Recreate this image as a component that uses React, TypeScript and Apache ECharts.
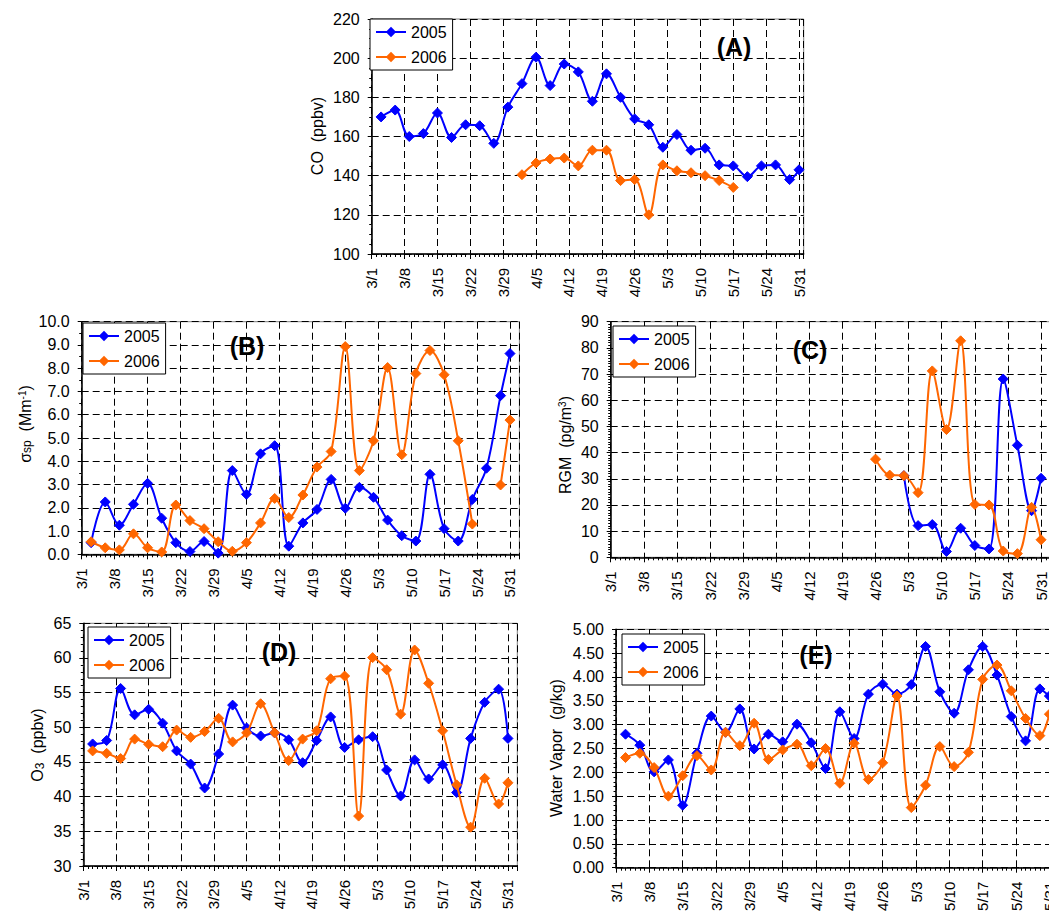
import React, { useEffect, useRef } from 'react';
import * as echarts from 'echarts';

const FONT = "'Liberation Sans', Arial, sans-serif";
const BLUE = '#0000FF';
const ORANGE = '#FF6600';

// day offsets from 3/1 for each 3-day average
const DAYS = [2, 5, 8, 11, 14, 17, 20, 23, 26, 29, 32, 35, 38, 41, 44, 47, 50, 53, 56, 59, 62, 65, 68, 71, 74, 77, 80, 83, 86, 89, 91];
const TICK_DAYS = [0, 7, 14, 21, 28, 35, 42, 49, 56, 63, 70, 77, 84, 91];
const TICK_LABELS = ['3/1', '3/8', '3/15', '3/22', '3/29', '4/5', '4/12', '4/19', '4/26', '5/3', '5/10', '5/17', '5/24', '5/31'];

const CO_2005 = [170, 173.5, 160, 161.5, 172, 159.5, 166, 165.5, 156.5, 175, 187, 200.5, 186, 197, 193, 178, 192, 180, 169, 166, 154.5, 161, 153, 154, 145.5, 145, 139.5, 145, 145.5, 138, 143];
const CO_2006 = [null, null, null, null, null, null, null, null, null, null, 140.5, 146.5, 148.5, 149, 145, 153, 153, 137.5, 138, 120, 145.5, 142.5, 141.5, 140, 137.5, 134, null, null, null, null, null];

const SSP_2005 = [0.5, 2.25, 1.25, 2.15, 3.05, 1.55, 0.5, 0.12, 0.55, 0.05, 3.6, 2.58, 4.32, 4.67, 0.35, 1.35, 1.93, 3.22, 1.98, 2.88, 2.45, 1.47, 0.8, 0.57, 3.44, 1.1, 0.57, 2.36, 3.7, 6.82, 8.63];
const SSP_2006 = [0.54, 0.28, 0.19, 0.88, 0.28, 0.1, 2.12, 1.45, 1.1, 0.54, 0.13, 0.5, 1.35, 2.4, 1.58, 2.55, 3.75, 4.42, 8.93, 3.6, 4.88, 8.03, 4.28, 7.77, 8.76, 7.72, 4.88, 1.3, null, 2.98, 5.77];

const RGM_2005 = [null, null, null, null, null, null, null, null, null, null, null, null, null, null, null, null, null, null, null, null, 31.2, 12.1, 12.5, 2.2, 11.1, 4.5, 3.2, 68.1, 42.8, 17.8, 30.2];
const RGM_2006 = [null, null, null, null, null, null, null, null, null, null, null, null, null, null, null, null, null, null, 37.5, 31.4, 31.2, 24.7, 71.2, 48.8, 82.7, 20.2, 20, 2.4, 1.4, 19.1, 6.7];

const O3_2005 = [47.6, 48.1, 55.6, 51.8, 52.6, 50.6, 46.6, 44.7, 41.25, 46.15, 53.2, 49.9, 48.75, 49.2, 48.2, 44.9, 48.1, 51.5, 47.1, 48.2, 48.65, 43.85, 40.1, 45.3, 42.55, 44.6, 40.6, 48.4, 53.6, 55.5, 48.4];
const O3_2006 = [46.6, 46.25, 45.5, 48.3, 47.55, 47.2, 49.6, 48.55, 49.4, 51.3, 47.9, 49.2, 53.4, 49.2, 45.2, 48.3, 49.5, 57.0, 57.4, 37.2, 60.05, 58.3, 51.9, 61.15, 56.35, 49.5, 41.7, 35.6, 42.65, 38.95, 42.0];

const WV_2005 = [2.8, 2.57, 2.01, 2.26, 1.31, 2.4, 3.18, 2.84, 3.33, 2.49, 2.8, 2.64, 3.01, 2.62, 2.08, 3.27, 2.71, 3.64, 3.85, 3.64, 3.84, 4.64, 3.69, 3.24, 4.15, 4.64, 4.04, 3.17, 2.66, 3.75, 3.6];
const WV_2006 = [2.31, 2.4, 2.1, 1.5, 1.93, 2.35, 2.05, 2.84, 2.56, 3.03, 2.27, 2.47, 2.59, 2.14, 2.5, 1.77, 2.61, 1.85, 2.2, 3.6, 1.26, 1.73, 2.54, 2.12, 2.42, 3.95, 4.25, 3.71, 3.13, 2.77, 3.22];

const pairs = (vals: (number | null)[]) => DAYS.map((d, i) => [d, vals[i] == null ? '-' : vals[i]]);

const GRIDS = [
  { left: 371.7, top: 19, width: 432, height: 235, xMax: 92 },
  { left: 81.7, top: 321.7, width: 437.7, height: 232.6, xMax: 93 },
  { left: 610.7, top: 321.7, width: 439.8, height: 235.6, xMax: 93 },
  { left: 83.3, top: 623.3, width: 434, height: 242.7, xMax: 93 },
  { left: 616, top: 629.3, width: 442.9, height: 238.4, xMax: 93 },
];

const Y_CFG = [
  { min: 100, max: 220, interval: 20, minor: 4, dec: 0 },
  { min: 0, max: 10, interval: 1, minor: 2, dec: 1 },
  { min: 0, max: 90, interval: 10, minor: 10, dec: 0 },
  { min: 30, max: 65, interval: 5, minor: 5, dec: 0 },
  { min: 0, max: 5, interval: 0.5, minor: 5, dec: 2 },
];

const SERIES_DATA = [
  [CO_2005, CO_2006],
  [SSP_2005, SSP_2006],
  [RGM_2005, RGM_2006],
  [O3_2005, O3_2006],
  [WV_2005, WV_2006],
];

const LEGEND_POS = [
  { left: 370, top: 19 },
  { left: 83, top: 323 },
  { left: 613, top: 326 },
  { left: 88, top: 627 },
  { left: 622, top: 634 },
];

const PANEL_TITLES = [
  { text: '(A)', x: 734, y: 46.5 },
  { text: '(B)', x: 247, y: 346 },
  { text: '(C)', x: 810, y: 350 },
  { text: '(D)', x: 279, y: 652 },
  { text: '(E)', x: 816, y: 655 },
];

const AXIS_NAMES = [
  { text: '{a|CO  (ppbv)}', x: 317.5, y: 136 },
  { text: '{a|σ}{sub|sp}{a|  (Mm}{sup|-1}{a|)}', x: 25, y: 424 },
  { text: '{a|RGM  (pg/m}{sup|3}{a|)}', x: 565, y: 445 },
  { text: '{a|O}{sub|3}{a|  (ppbv)}', x: 37.5, y: 745 },
  { text: '{a|Water Vapor  (g/kg)}', x: 556, y: 748 },
];

const NAME_RICH = {
  a: { fontSize: 16, fontFamily: FONT, fill: '#000' },
  sub: { fontSize: 12, fontFamily: FONT, fill: '#000', verticalAlign: 'bottom' },
  sup: { fontSize: 10, fontFamily: FONT, fill: '#000', verticalAlign: 'top' },
};

export default function App() {
  const ref = useRef<HTMLDivElement>(null);
  useEffect(() => {
    if (!ref.current) return;
    const chart = echarts.init(ref.current, null, { renderer: 'svg' });

    const grid = GRIDS.map((g) => ({
      left: g.left, top: g.top, width: g.width, height: g.height,
      show: true, borderColor: '#808080', borderWidth: 1, backgroundColor: 'transparent',
      outerBoundsMode: 'none', containLabel: false,
    }));

    const xAxis: any[] = [];
    GRIDS.forEach((g, i) => {
      xAxis.push({
        type: 'value', gridIndex: i, min: 0, max: g.xMax, interval: 7, position: 'bottom',
        axisLine: { show: true, onZero: false, lineStyle: { color: '#000', width: 1.5 } },
        axisTick: { show: true, length: 5, lineStyle: { color: '#000', width: 1 } },
        axisLabel: {
          rotate: 90, margin: 14, fontSize: 15, color: '#000', fontFamily: FONT,
          showMaxLabel: true, showMinLabel: true,
          formatter: (v: number) => {
            const k = TICK_DAYS.indexOf(v);
            return k >= 0 ? TICK_LABELS[k] : '';
          },
        },
        splitLine: { show: true, lineStyle: { color: '#000', width: 1, type: [7, 4] } },
        z: 3,
      });
      xAxis.push({
        type: 'value', gridIndex: i, min: 0, max: g.xMax, interval: 1, position: 'bottom',
        axisLine: { show: false, onZero: false },
        axisTick: { show: true, length: 3, lineStyle: { color: '#000', width: 1 } },
        axisLabel: { show: false },
        splitLine: { show: false },
      });
    });

    const yAxis = Y_CFG.map((c, i) => ({
      type: 'value', gridIndex: i, min: c.min, max: c.max, interval: c.interval,
      axisLine: { show: true, onZero: false, lineStyle: { color: '#000', width: 1.5 } },
      axisTick: { show: true, length: 4, lineStyle: { color: '#000', width: 1 } },
      minorTick: { show: true, splitNumber: c.minor, length: 2.5, lineStyle: { color: '#000', width: 1 } },
      axisLabel: {
        margin: 12, fontSize: 16, color: '#000', fontFamily: FONT,
        formatter: (v: number) => v.toFixed(c.dec),
      },
      splitLine: { show: true, lineStyle: { color: '#000', width: 1, type: [7, 4] } },
    }));

    const series: any[] = [];
    SERIES_DATA.forEach((pair, i) => {
      ['2005', '2006'].forEach((name, j) => {
        const color = j === 0 ? BLUE : ORANGE;
        series.push({
          type: 'line', name, xAxisIndex: i * 2, yAxisIndex: i,
          data: pairs(pair[j]),
          smooth: 0.35,
          symbol: 'diamond', symbolSize: 10,
          showAllSymbol: true,
          connectNulls: false,
          lineStyle: { color, width: 2 },
          itemStyle: { color, borderColor: color },
          z: 3 + j,
        });
      });
    });

    const legend = LEGEND_POS.map((p) => ({
      left: p.left, top: p.top, orient: 'vertical',
      data: ['2005', '2006'],
      backgroundColor: '#fff', borderColor: '#000', borderWidth: 1,
      padding: [5, 6, 5, 5], itemGap: 9, itemWidth: 30, itemHeight: 13,
      textStyle: { fontSize: 16, color: '#000', fontFamily: FONT },
      selectedMode: false,
      z: 10,
    }));

    const graphic: any[] = [];
    PANEL_TITLES.forEach((t) => {
      graphic.push({
        type: 'text', x: t.x, y: t.y, z: 20,
        style: { text: t.text, fontSize: 25, fontWeight: 'bold', fontFamily: FONT, fill: '#000', align: 'center', verticalAlign: 'middle' },
      });
    });
    AXIS_NAMES.forEach((t) => {
      graphic.push({
        type: 'text', x: t.x, y: t.y, rotation: Math.PI / 2, z: 20,
        style: { text: t.text, rich: NAME_RICH, fontSize: 16, fontFamily: FONT, fill: '#000', align: 'center', verticalAlign: 'middle' },
      });
    });

    chart.setOption({
      animation: false,
      backgroundColor: '#fff',
      grid, xAxis, yAxis, series, legend, graphic,
    });
    return () => chart.dispose();
  }, []);
  return <div ref={ref} style={{ position: 'absolute', left: 0, top: 0, width: 1049, height: 914, overflow: 'hidden' }} />;
}
